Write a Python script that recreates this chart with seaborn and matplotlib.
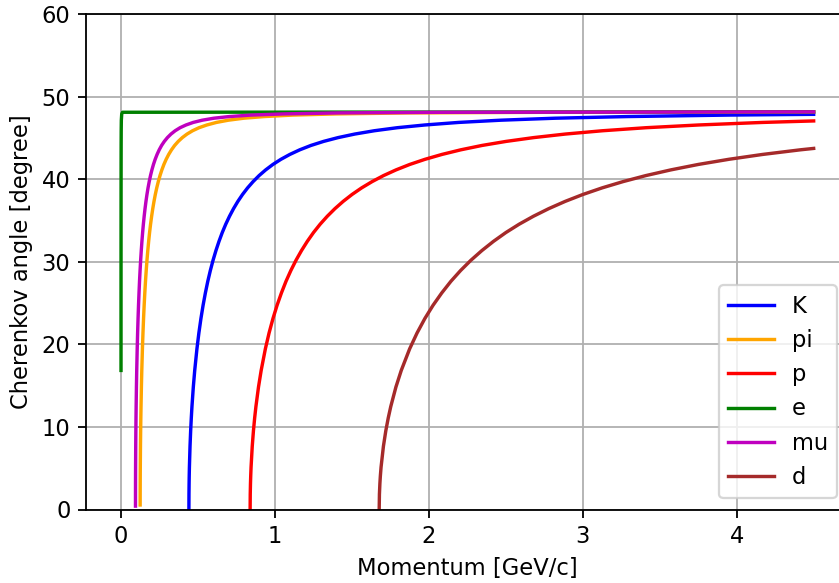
import matplotlib
matplotlib.use("Agg")
import matplotlib.pyplot as plt
import seaborn as sns

# Cherenkov angle (degrees) versus particle momentum (GeV/c) for each particle species
K_p = [0.44155, 0.44197, 0.44276, 0.44356, 0.44476, 0.44880, 0.45292, 0.45711, 0.46138, 0.47017,
       0.47930, 0.49368, 0.50634, 0.51966, 0.53371, 0.54853, 0.56421, 0.58080, 0.59840, 0.61710,
       0.63701, 0.65824, 0.68094, 0.70526, 0.73138, 0.75951, 0.78989, 0.82280, 0.85857, 0.89760,
       0.94034, 0.98736, 1.03933, 1.09707, 1.16160, 1.23420, 1.31648, 1.41051, 1.51902, 1.64560,
       1.79520, 1.97472, 2.19413, 2.46840, 2.82103, 3.29120, 3.94944, 4.5]
K_theta = [0.0, 1.84, 3.14, 4.05, 5.12, 7.66, 9.55, 11.11, 12.48, 14.84,
           16.85, 19.47, 21.39, 23.14, 24.75, 26.24, 27.65, 28.96, 30.20, 31.37,
           32.49, 33.56, 34.57, 35.53, 36.45, 37.33, 38.17, 38.97, 39.73, 40.46,
           41.15, 41.81, 42.43, 43.02, 43.58, 44.11, 44.60, 45.06, 45.49, 45.89,
           46.26, 46.59, 46.90, 47.17, 47.41, 47.61, 47.79, 47.88]

pi_p = [0.12484, 0.12495, 0.12518, 0.12540, 0.12574, 0.12688, 0.12805, 0.12923, 0.13044, 0.13292,
        0.13550, 0.13957, 0.14315, 0.14692, 0.15089, 0.15508, 0.15951, 0.16420, 0.16918, 0.17446,
        0.18009, 0.18609, 0.19251, 0.19939, 0.20677, 0.21472, 0.22331, 0.23262, 0.24273, 0.25376,
        0.26585, 0.27914, 0.29383, 0.31016, 0.32840, 0.34893, 0.37219, 0.39877, 0.42945, 0.46523,
        0.50753, 0.55828, 0.62031, 0.69785, 0.79754, 0.93047, 1.11656, 1.39570, 1.86093, 2.79140,
        4.5]
pi_theta = [0.55, 1.84, 3.14, 4.05, 5.12, 7.66, 9.55, 11.11, 12.48, 14.84,
            16.85, 19.47, 21.39, 23.14, 24.75, 26.24, 27.65, 28.96, 30.20, 31.37,
            32.49, 33.56, 34.57, 35.53, 36.45, 37.33, 38.17, 38.97, 39.73, 40.46,
            41.15, 41.81, 42.43, 43.02, 43.58, 44.11, 44.60, 45.06, 45.49, 45.89,
            46.26, 46.59, 46.90, 47.17, 47.41, 47.61, 47.79, 47.93, 48.05, 48.13,
            48.17]

p_p = [0.83921, 0.84000, 0.84150, 0.84301, 0.84529, 0.85297, 0.86080, 0.86877, 0.87689, 0.89359,
       0.91094, 0.93827, 0.96233, 0.98765, 1.01435, 1.04252, 1.07231, 1.10385, 1.13730, 1.17284,
       1.21067, 1.25103, 1.29417, 1.34039, 1.39003, 1.44349, 1.50123, 1.56378, 1.63177, 1.70595,
       1.78718, 1.87654, 1.97531, 2.08504, 2.20769, 2.34568, 2.50205, 2.68077, 2.88698, 3.12757,
       3.41189, 3.75308, 4.17009, 4.5]
p_theta = [0.0, 1.84, 3.14, 4.05, 5.12, 7.66, 9.55, 11.11, 12.48, 14.84,
           16.85, 19.47, 21.39, 23.14, 24.75, 26.24, 27.65, 28.96, 30.20, 31.37,
           32.49, 33.56, 34.57, 35.53, 36.45, 37.33, 38.17, 38.97, 39.73, 40.46,
           41.15, 41.81, 42.43, 43.02, 43.58, 44.11, 44.60, 45.06, 45.49, 45.89,
           46.26, 46.59, 46.90, 47.08]

e_p = [0.000496, 0.000511, 0.000538, 0.000568, 0.000639, 0.000730, 0.000852, 0.001022,
       0.001278, 0.001703, 0.002555, 0.00511, 0.01022, 4.5]
e_theta = [16.85, 19.47, 23.14, 26.24, 31.37, 35.53, 38.97, 41.81,
           44.11, 45.89, 47.17, 47.93, 48.13, 48.19]

mu_p = [0.09451, 0.09459, 0.09476, 0.09493, 0.09519, 0.09605, 0.09694, 0.09783, 0.09875, 0.10063,
        0.10258, 0.10566, 0.10837, 0.11122, 0.11423, 0.11740, 0.12075, 0.12431, 0.12807, 0.13208,
        0.13634, 0.14088, 0.14574, 0.15094, 0.15653, 0.16255, 0.16906, 0.17610, 0.18376, 0.19211,
        0.20126, 0.21132, 0.22244, 0.23480, 0.24861, 0.26415, 0.28176, 0.30189, 0.32511, 0.35220,
        0.38422, 0.42264, 0.46960, 0.52830, 0.60377, 0.70440, 0.84528, 1.05660, 1.40880, 2.11320,
        4.5]
mu_theta = [0.41, 1.84, 3.14, 4.05, 5.12, 7.66, 9.55, 11.11, 12.48, 14.84,
            16.85, 19.47, 21.39, 23.14, 24.75, 26.24, 27.65, 28.96, 30.20, 31.37,
            32.49, 33.56, 34.57, 35.53, 36.45, 37.33, 38.17, 38.97, 39.73, 40.46,
            41.15, 41.81, 42.43, 43.02, 43.58, 44.11, 44.60, 45.06, 45.49, 45.89,
            46.26, 46.59, 46.90, 47.17, 47.41, 47.61, 47.79, 47.93, 48.05, 48.13,
            48.18]

d_p = [1.67760, 1.67914, 1.68215, 1.68518, 1.68973, 1.70509, 1.72073, 1.73667, 1.75290, 1.78629,
       1.82097, 1.87560, 1.92369, 1.97432, 2.02769, 2.08400, 2.14355, 2.20659, 2.27347, 2.34450,
       2.42014, 2.50080, 2.58705, 2.67943, 2.77868, 2.88554, 3.00098, 3.12600, 3.26193, 3.41018,
       3.57259, 3.75120, 3.94865, 4.16800, 4.41320, 4.5]
d_theta = [0.0, 1.84, 3.14, 4.05, 5.12, 7.66, 9.55, 11.11, 12.48, 14.84,
           16.85, 19.47, 21.39, 23.14, 24.75, 26.24, 27.65, 28.96, 30.20, 31.37,
           32.49, 33.56, 34.57, 35.53, 36.45, 37.33, 38.17, 38.97, 39.73, 40.46,
           41.15, 41.81, 42.43, 43.02, 43.58, 43.75]

labels = ["K", "pi", "p", "e", "mu", "d"]
colors = ["blue", "orange", "red", "green", "m", "brown"]
series = [(K_p, K_theta), (pi_p, pi_theta), (p_p, p_theta),
          (e_p, e_theta), (mu_p, mu_theta), (d_p, d_theta)]

DPI = 163
fig = plt.figure(figsize=(840 / DPI, 583 / DPI), dpi=DPI)
ax = fig.add_axes([86.3 / 840, 1 - 509.5 / 583, (848.3 - 86.3) / 840, (509.5 - 14.3) / 583])

for (px, th), lab, col in zip(series, labels, colors):
    sns.lineplot(x=px, y=th, ax=ax, color=col, label=lab, linewidth=1.5,
                 estimator=None, sort=False)

ax.set_ylim(0, 60)
ax.set_xlim(-0.225, 4.725)
ax.set_xticks([0, 1, 2, 3, 4])
ax.set_xlabel("Momentum [GeV/c]")
ax.set_ylabel("Cherenkov angle [degree]")
ax.grid(True)
ax.legend(loc="lower right")

fig.savefig("out.png", dpi=DPI)
